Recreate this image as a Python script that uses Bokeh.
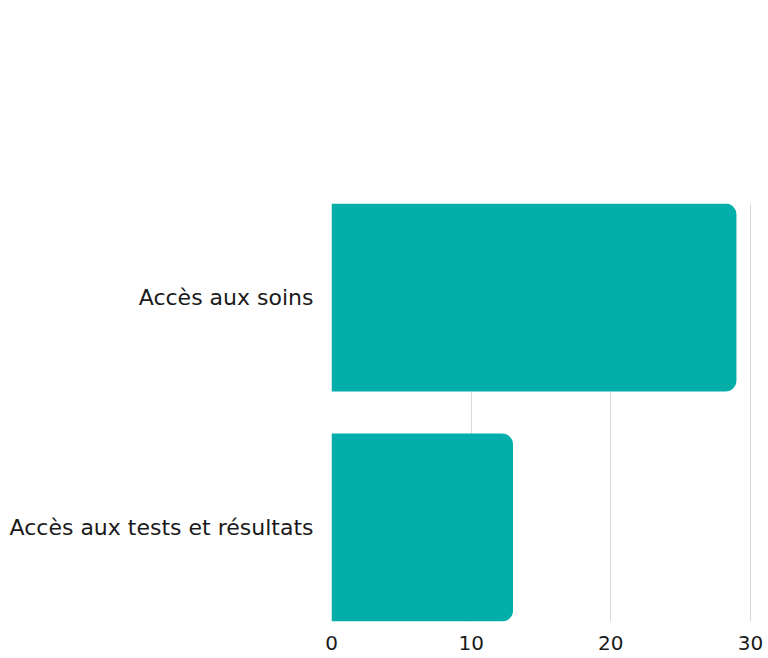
from bokeh.plotting import figure
from bokeh.models import Range1d, FixedTicker, ColumnDataSource
from bokeh.embed import file_html
from bokeh.resources import INLINE

categories = ["Accès aux soins", "Accès aux tests et résultats"]
values = [29, 13]
x_ticks = [0, 10, 20, 30]

n = len(categories)
positions = [n - 1 - i for i in range(n)]
src = ColumnDataSource(dict(y=positions, right=values, cat=categories))

FONT = "DejaVu Sans"

p = figure(width=768, height=656, output_backend="svg", toolbar_location=None,
           x_range=Range1d(0, 30.15), y_range=Range1d(-0.4087, n - 1 + 0.4087),
           min_border_left=331, min_border_right=16, min_border_top=203, min_border_bottom=35)
p.outline_line_color = None
p.background_fill_color = "white"

p.hbar(y="y", left=0, right="right", height=0.8174, source=src,
       fill_color="#03ADA9", line_color=None, border_radius=(0, 11, 11, 0))

p.xaxis.ticker = FixedTicker(ticks=x_ticks)
p.yaxis.ticker = FixedTicker(ticks=positions)
p.yaxis.major_label_overrides = {pos: c for pos, c in zip(positions, categories)}

for ax in (p.xaxis[0], p.yaxis[0]):
    ax.axis_line_color = None
    ax.major_tick_line_color = None
    ax.minor_tick_line_color = None
    ax.major_label_text_font = FONT
    ax.major_label_text_color = "#1a1a1a"
p.xaxis.major_label_text_font_size = "20px"
p.yaxis.major_label_text_font_size = "22px"
p.xaxis.major_label_standoff = 8
p.yaxis.major_label_standoff = 12

p.xgrid.ticker = FixedTicker(ticks=x_ticks)
p.xgrid.grid_line_color = "#d9d9d9"
p.xgrid.grid_line_width = 1
p.ygrid.grid_line_color = None

open("out.html", "w").write(file_html(p, INLINE))
